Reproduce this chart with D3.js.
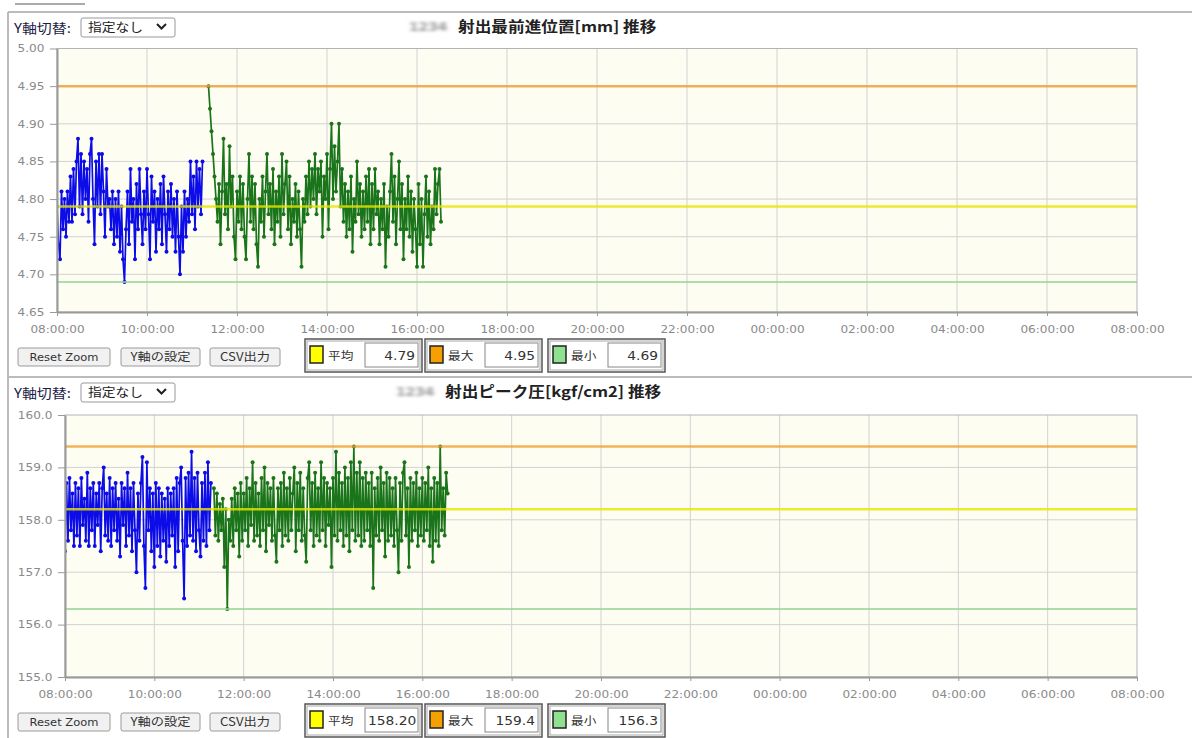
<!DOCTYPE html>
<html>
<head>
<meta charset="utf-8">
<script src="https://cdn.jsdelivr.net/npm/d3@7"></script>
<style>
body { margin: 0; background: #fff; }
svg { display: block; }
</style>
</head>
<body>
<svg id="page" width="1192" height="738"></svg>
<script>
// ---- data ----
const xTickLabels = ["08:00:00","10:00:00","12:00:00","14:00:00","16:00:00","18:00:00","20:00:00",
                     "22:00:00","00:00:00","02:00:00","04:00:00","06:00:00","08:00:00"];
const dayStart = new Date(2021, 0, 1, 8, 0);
const dayEnd = new Date(2021, 0, 2, 8, 0);
const stepMin = 2; // sampling interval of the series (minutes)

const statLabels = ["平均", "最大", "最小"];

// chart 1 : 射出最前進位置[mm]
const posTitle = "射出最前進位置[mm] 推移";
const posYTicks = [5.00, 4.95, 4.90, 4.85, 4.80, 4.75, 4.70, 4.65];
const posBlueStart = new Date(2021, 0, 1, 8, 0);
const posBlue = [
  4.79,4.74,4.72,4.81,4.76,4.80,4.75,4.81,4.77,4.83,
  4.77,4.84,4.78,4.85,4.88,4.79,4.86,4.78,4.85,4.80,
  4.84,4.77,4.86,4.88,4.80,4.74,4.85,4.79,4.86,4.78,
  4.86,4.81,4.75,4.84,4.79,4.80,4.76,4.81,4.74,4.80,
  4.75,4.81,4.73,4.79,4.72,4.69,4.76,4.81,4.74,4.84,
  4.77,4.80,4.72,4.82,4.76,4.84,4.78,4.74,4.81,4.76,
  4.84,4.78,4.72,4.83,4.77,4.81,4.73,4.80,4.76,4.82,
  4.74,4.83,4.78,4.73,4.81,4.76,4.82,4.75,4.80,4.73,
  4.81,4.75,4.70,4.79,4.73,4.81,4.75,4.80,4.77,4.85,
  4.78,4.83,4.76,4.85,4.79,4.84,4.78,4.85
];
const posGreenStart = new Date(2021, 0, 1, 11, 22);
const posGreen = [
  4.95,4.92,4.89,4.86,4.83,4.80,4.77,4.82,4.74,4.81,
  4.88,4.78,4.82,4.76,4.87,4.79,4.83,4.75,4.72,4.81,
  4.77,4.83,4.76,4.82,4.75,4.72,4.80,4.86,4.77,4.83,
  4.76,4.82,4.74,4.71,4.80,4.77,4.83,4.75,4.81,4.86,
  4.78,4.82,4.76,4.84,4.74,4.81,4.77,4.83,4.75,4.86,
  4.78,4.82,4.85,4.76,4.83,4.74,4.80,4.77,4.82,4.75,
  4.81,4.76,4.71,4.80,4.77,4.83,4.78,4.85,4.79,4.84,
  4.80,4.86,4.78,4.84,4.81,4.85,4.75,4.83,4.80,4.86,
  4.76,4.84,4.90,4.80,4.87,4.81,4.85,4.90,4.79,4.84,
  4.77,4.82,4.75,4.81,4.76,4.83,4.73,4.80,4.77,4.85,
  4.78,4.82,4.75,4.81,4.76,4.83,4.77,4.84,4.74,4.82,
  4.76,4.84,4.78,4.81,4.74,4.80,4.76,4.82,4.71,4.79,
  4.75,4.81,4.86,4.77,4.83,4.74,4.80,4.85,4.76,4.82,
  4.72,4.80,4.76,4.83,4.75,4.81,4.73,4.80,4.76,4.71,
  4.82,4.74,4.80,4.71,4.78,4.83,4.75,4.81,4.74,4.79,
  4.76,4.84,4.78,4.82,4.84,4.77
];
const posRefs = [4.79, 4.95, 4.69];          // 平均, 最大, 最小
const posStatText = ["4.79", "4.95", "4.69"];

// chart 2 : 射出ピーク圧[kgf/cm2]
const peakTitle = "射出ピーク圧[kgf/cm2] 推移";
const peakYTicks = [160.0, 159.0, 158.0, 157.0, 156.0, 155.0];
const peakBlueStart = new Date(2021, 0, 1, 8, 0);
const peakBlue = [
  157.4,158.7,157.6,158.8,157.8,158.5,157.5,158.7,157.7,158.6,
  157.5,158.8,157.9,158.4,157.6,158.9,157.5,158.6,157.8,158.7,
  157.5,158.5,157.9,158.7,157.4,158.6,159.0,157.7,158.5,157.6,
  158.8,157.5,158.6,157.8,158.7,157.6,158.4,157.3,158.7,157.9,
  158.6,157.5,158.9,157.7,158.6,157.4,158.7,157.8,157.0,158.5,
  157.6,158.7,159.2,157.5,156.7,159.1,157.8,158.6,157.4,158.5,
  157.1,158.7,157.5,158.6,157.3,158.5,157.6,158.4,157.2,158.6,
  157.5,158.5,157.7,158.6,157.1,158.8,157.4,158.7,159.0,157.6,
  156.5,158.8,157.5,158.9,157.7,159.3,157.6,158.8,157.4,158.9,
  157.8,157.3,158.7,157.6,158.9,157.5,159.1,157.8,158.7
];
const peakGreenStart = new Date(2021, 0, 1, 11, 20);
const peakGreen = [
  158.6,157.7,158.5,157.6,158.3,157.8,158.4,157.1,158.2,156.3,
  158.0,157.6,158.4,157.5,158.6,157.8,158.5,157.3,158.7,157.6,
  158.5,157.8,158.8,157.5,158.6,157.9,159.1,157.6,158.7,157.7,
  158.5,157.5,158.8,157.8,159.0,157.4,158.7,157.9,158.6,157.6,
  158.8,157.7,157.2,158.6,157.8,158.7,157.5,158.9,157.7,158.6,
  157.6,158.8,157.8,158.5,159.0,157.4,158.7,157.8,158.9,157.6,
  158.6,157.7,157.2,158.8,159.1,157.8,158.7,157.5,158.9,157.7,
  158.6,157.6,159.1,157.8,158.8,157.5,158.7,157.9,158.6,157.1,
  158.8,157.7,159.3,157.6,158.9,157.8,158.7,157.5,159.0,157.7,
  158.8,157.4,159.1,157.8,159.4,157.6,158.9,157.7,159.1,157.5,
  158.8,157.6,158.9,157.8,158.7,157.5,158.9,156.7,158.6,157.7,
  158.8,157.6,159.0,157.8,158.7,157.3,158.9,157.6,158.8,157.7,
  158.6,157.5,158.8,157.8,157.0,158.7,157.6,158.9,159.1,157.7,
  158.6,157.1,158.8,157.6,158.7,157.8,158.9,157.5,158.6,157.7,
  158.8,157.6,158.7,157.8,159.0,157.5,158.6,157.2,158.8,157.6,
  158.7,157.5,159.4,157.8,158.6,157.7,158.9,158.5
];
const peakRefs = [158.2, 159.4, 156.3];
const peakStatText = ["158.20", "159.4", "156.3"];

// ---- drawing ----
const SX = 1.15; // the screenshot is stretched sideways, text too
const CJK = "'Noto Sans CJK JP', sans-serif";
const LAT = "'DejaVu Sans', sans-serif";
const blueC = "#0c0ce8", greenC = "#1a741a";
const refColors = ["#e8e600", "#f0a033", "#96d696"];
const swatchColors = ["#ffff00", "#f5a000", "#8fe08f"];

const svg = d3.select("#page");
const defs = svg.append("defs");
defs.append("filter").attr("id", "blur")
  .append("feGaussianBlur").attr("stdDeviation", 1.7);

function stext(parent, x, y, str, size, family, fill, anchor, weight) {
  return parent.append("text")
    .attr("transform", `translate(${x},${y}) scale(${SX},1)`)
    .attr("text-anchor", anchor || "start")
    .style("font-family", family)
    .style("font-size", size + "px")
    .style("font-weight", weight || "normal")
    .attr("fill", fill)
    .text(str);
}

// page frame
svg.append("line").attr("x1", 15).attr("x2", 85).attr("y1", 4).attr("y2", 4)
  .attr("stroke", "#aaa").attr("stroke-width", 2);
svg.append("line").attr("x1", 8).attr("x2", 1192).attr("y1", 12).attr("y2", 12)
  .attr("stroke", "#bbb").attr("stroke-width", 2);
svg.append("line").attr("x1", 8).attr("x2", 8).attr("y1", 12).attr("y2", 738)
  .attr("stroke", "#bbb").attr("stroke-width", 2);
svg.append("line").attr("x1", 8).attr("x2", 1192).attr("y1", 377).attr("y2", 377)
  .attr("stroke", "#bbb").attr("stroke-width", 2);

function drawPanel(cfg) {
  const off = cfg.off;
  const g = svg.append("g");

  // header
  stext(g, 14, 33 + off, "Y軸切替:", 13, CJK, "#1c1c44");
  g.append("rect").attr("x", 81).attr("y", 18 + off).attr("width", 94).attr("height", 19)
    .attr("rx", 2).attr("fill", "#fff").attr("stroke", "#999");
  stext(g, 88, 32 + off, "指定なし", 12, CJK, "#222");
  g.append("path").attr("d", `M157,${24 + off} L161.5,${28.5 + off} L166,${24 + off}`)
    .attr("fill", "none").attr("stroke", "#222").attr("stroke-width", 2);
  stext(g, cfg.blurX, 31 + off, "1234", 12, LAT, "#999", "start", "bold").attr("filter", "url(#blur)");
  stext(g, cfg.titleX, 32 + off, cfg.title, 14.5, CJK, "#222", "start", "bold");

  // scales
  const x = d3.scaleTime().domain([dayStart, dayEnd]).range([cfg.left, 1137]);
  const y = d3.scaleLinear().domain(cfg.yDomain).range([cfg.bottom, cfg.top]);
  const pw = 1137 - cfg.left, ph = cfg.bottom - cfg.top;
  const xTicks = d3.timeHour.every(2).range(dayStart, new Date(+dayEnd + 1));

  g.append("rect").attr("x", cfg.left).attr("y", cfg.top).attr("width", pw).attr("height", ph)
    .attr("fill", "#fefdf2");

  // grid
  g.append("g").selectAll("line").data(xTicks.slice(1, -1)).join("line")
    .attr("x1", d => x(d)).attr("x2", d => x(d)).attr("y1", cfg.top).attr("y2", cfg.bottom)
    .attr("stroke", "#d2d2d2");
  g.append("g").selectAll("line").data(cfg.yTicks.slice(1, -1)).join("line")
    .attr("x1", cfg.left).attr("x2", 1137).attr("y1", d => y(d)).attr("y2", d => y(d))
    .attr("stroke", "#d2d2d2");

  const clipId = "clip" + off;
  defs.append("clipPath").attr("id", clipId).append("rect")
    .attr("x", cfg.left).attr("y", cfg.top).attr("width", pw).attr("height", ph);
  const plot = g.append("g").attr("clip-path", `url(#${clipId})`);

  // series
  cfg.series.forEach(s => {
    const pts = s.values.map((v, i) => ({ t: d3.timeMinute.offset(s.start, i * stepMin), v }));
    const line = d3.line().x(d => x(d.t)).y(d => y(d.v));
    plot.append("path").datum(pts).attr("d", line)
      .attr("fill", "none").attr("stroke", s.color).attr("stroke-width", 1.7)
      .attr("stroke-linejoin", "round");
    plot.append("g").selectAll("circle").data(pts).join("circle")
      .attr("cx", d => x(d.t)).attr("cy", d => y(d.v)).attr("r", 2).attr("fill", s.color);
  });

  // average / max / min lines on top
  plot.append("g").selectAll("line").data(cfg.refs).join("line")
    .attr("x1", cfg.left).attr("x2", 1137).attr("y1", d => y(d)).attr("y2", d => y(d))
    .attr("stroke", (d, i) => refColors[i]).attr("stroke-width", (d, i) => i === 2 ? 2 : 2.5)
    .attr("stroke-opacity", 0.8);

  // frame + axes
  g.append("rect").attr("x", cfg.left).attr("y", cfg.top).attr("width", pw).attr("height", ph)
    .attr("fill", "none").attr("stroke", "#b4b4b4");

  const yAxis = d3.axisLeft(y).tickValues(cfg.yTicks).tickFormat(cfg.fmt)
    .tickSizeInner(7).tickSizeOuter(0).tickPadding(4);
  const ga = g.append("g").attr("transform", `translate(${cfg.left},0)`).call(yAxis);
  ga.select(".domain").attr("stroke", "#999").attr("stroke-width", 2);
  ga.selectAll(".tick line").attr("stroke", "#999");
  ga.selectAll(".tick text").attr("fill", "#8a8a8a").style("font-family", LAT)
    .style("font-size", "10.5px").attr("transform", `scale(${SX},1)`);

  const xAxis = d3.axisBottom(x).tickValues(xTicks).tickFormat((d, i) => xTickLabels[i])
    .tickSizeInner(4).tickSizeOuter(0).tickPadding(10);
  const gx = g.append("g").attr("transform", `translate(0,${cfg.bottom})`).call(xAxis);
  gx.select(".domain").attr("stroke", "#999").attr("stroke-width", 2);
  gx.selectAll(".tick line").attr("stroke", "#999");
  gx.selectAll(".tick text").attr("fill", "#8a8a8a").style("font-family", LAT)
    .style("font-size", "10.5px").attr("transform", `scale(${SX},1)`);

  // buttons
  const btns = [["Reset Zoom", 18, 92, LAT, 10], ["Y軸の設定", 121, 79, CJK, 11.5], ["CSV出力", 210, 70, CJK, 11.5]];
  btns.forEach(b => {
    g.append("rect").attr("x", b[1]).attr("y", 348 + off).attr("width", b[2]).attr("height", 18)
      .attr("rx", 2).attr("fill", "#f1f1f1").attr("stroke", "#9a9a9a");
    stext(g, b[1] + b[2] / 2, 361 + off, b[0], b[4], b[3], "#333", "middle");
  });

  // legend boxes
  const boxX = [305, 425, 548];
  statLabels.forEach((lab, i) => {
    const bx = boxX[i], by = 339 + off;
    g.append("rect").attr("x", bx).attr("y", by).attr("width", 117).attr("height", 33)
      .attr("fill", "#fff").attr("stroke", "#555").attr("stroke-width", 1.5);
    g.append("rect").attr("x", bx + 2).attr("y", by + 2).attr("width", 113).attr("height", 29)
      .attr("fill", "none").attr("stroke", "#aaa");
    g.append("rect").attr("x", bx + 5).attr("y", by + 7).attr("width", 13).attr("height", 17)
      .attr("fill", swatchColors[i]).attr("stroke", "#222").attr("stroke-width", 1.5);
    stext(g, bx + 23, by + 21, lab, 11, CJK, "#333");
    const vx = bx + 60, vy = by + 4, vw = 53, vh = 24;
    g.append("rect").attr("x", vx).attr("y", vy).attr("width", vw).attr("height", vh)
      .attr("fill", "#fff").attr("stroke", "#888");
    const cid = `vclip${off}_${i}`;
    defs.append("clipPath").attr("id", cid).append("rect")
      .attr("x", vx + 1).attr("y", vy + 1).attr("width", vw - 2).attr("height", vh - 2);
    const t = stext(g.append("g").attr("clip-path", `url(#${cid})`), vx + vw - 3, vy + 17,
      cfg.stats[i], 12, LAT, "#333", "end");
    if (t.node().getComputedTextLength() * SX > vw - 6) {
      t.attr("text-anchor", "start").attr("transform", `translate(${vx + 3},${vy + 17}) scale(${SX},1)`);
    }
  });
}

drawPanel({
  off: 0, title: posTitle, titleX: 458, blurX: 409,
  left: 57, top: 48.5, bottom: 312,
  yDomain: [4.65, 5.00], yTicks: posYTicks, fmt: d3.format(".2f"),
  series: [{ start: posBlueStart, values: posBlue, color: blueC },
           { start: posGreenStart, values: posGreen, color: greenC }],
  refs: posRefs, stats: posStatText
});

drawPanel({
  off: 365, title: peakTitle, titleX: 445, blurX: 396,
  left: 65, top: 415, bottom: 677,
  yDomain: [155, 160], yTicks: peakYTicks, fmt: d3.format(".1f"),
  series: [{ start: peakBlueStart, values: peakBlue, color: blueC },
           { start: peakGreenStart, values: peakGreen, color: greenC }],
  refs: peakRefs, stats: peakStatText
});
</script>
</body>
</html>
